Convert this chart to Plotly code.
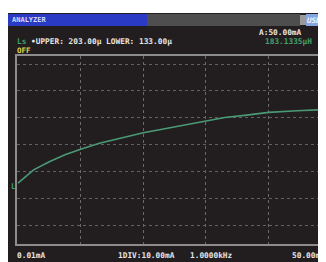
import plotly.graph_objects as go

current_mA = [0.01, 2.5, 5, 7.5, 10, 13, 16, 18.5, 20, 23, 26.5, 30, 33, 36.5, 40, 44.5, 50]
ls_uH = [155.7, 160.6, 163.6, 166.2, 168.3, 170.5, 172.2, 173.6, 174.4, 175.7,
         177.3, 178.9, 180.1, 181.0, 182.0, 182.6, 183.13]
x_grid = [10, 20, 30, 40]
y_grid = [140, 150, 160, 170, 180, 190, 200]
upper_uH = 203.0
lower_uH = 133.0

OFF = 8  # page body margin
W, H = 326 - OFF, 262 - OFF
# plot area in page pixels
L, R, T, B = 17, 326, 56, 244


def px(x):
    return (x - L) / (R - L)


def py(y):
    return (B - y) / (B - T)


DARK = "#221e1f"
GREEN = "#44a06a"
WHITE = "#e6e6e6"
MONO = "DejaVu Sans Mono"

fig = go.Figure()
fig.add_trace(go.Scatter(x=current_mA, y=ls_uH, mode="lines",
                         line=dict(color="#4a9a76", width=1.6), hoverinfo="skip"))

shapes = [
    # instrument screen background
    dict(type="rect", xref="paper", yref="paper", x0=px(8), x1=px(326), y0=py(13), y1=py(262),
         fillcolor=DARK, line=dict(width=0), layer="below"),
    # title bar (blue)
    dict(type="rect", xref="paper", yref="paper", x0=px(8), x1=px(147), y0=py(14), y1=py(26),
         fillcolor="#2a3ac4", line=dict(width=0)),
    # title bar (gray)
    dict(type="rect", xref="paper", yref="paper", x0=px(147), x1=px(300), y0=py(14), y1=py(26),
         fillcolor="#4e4e4e", line=dict(width=0)),
    # usb icon
    dict(type="rect", xref="paper", yref="paper", x0=px(300), x1=px(306), y0=py(15), y1=py(25),
         fillcolor="#9a9a9a", line=dict(width=0)),
    dict(type="rect", xref="paper", yref="paper", x0=px(306), x1=px(326), y0=py(14), y1=py(26),
         fillcolor="#86a6e2", line=dict(width=0)),
]


def ann(text, x, y, color=WHITE, size=7.8, anchor="left", italic=False):
    if italic:
        text = "<i>" + text + "</i>"
    return dict(text=text, x=px(x), y=py(y), xref="paper", yref="paper", showarrow=False,
                xanchor=anchor, yanchor="middle", font=dict(family=MONO, size=size, color=color),
                borderpad=0, borderwidth=0)


annotations = [
    ann("<b>ANALYZER</b>", 12, 20, color="#d4dcff", size=7),
    ann("<b>USB</b>", 307, 20, color="#f4f6ff", size=7.5, italic=True),
    ann("<b>Ls</b>", 17, 42, color=GREEN),
    ann("<b>\u2022UPPER: %.2f\u03bc LOWER: %.2f\u03bc</b>" % (upper_uH, lower_uH), 31, 42),
    ann("<b>OFF</b>", 17, 51, color="#e6d648", size=7.5),
    ann("<b>A:50.00mA</b>", 302, 32, anchor="right"),
    ann("<b>183.1335\u03bcH</b>", 312, 41, color=GREEN, anchor="right"),
    ann("<b>L</b>", 13, 186, color=GREEN, anchor="center"),
    ann("<b>0.01mA</b>", 17, 255),
    ann("<b>1DIV:10.00mA</b>", 118, 255),
    ann("<b>1.0000kHz</b>", 190, 255),
    ann("<b>50.00mA</b>", 325, 255, anchor="right"),
]

fig.update_layout(
    width=W, height=H,
    margin=dict(l=L - OFF, r=326 - R, t=T - OFF, b=262 - B, pad=0),
    paper_bgcolor="white",
    plot_bgcolor=DARK,
    showlegend=False,
    shapes=shapes,
    annotations=annotations,
)
fig.update_xaxes(range=[-0.15, 49.15], tickmode="array", tickvals=x_grid, showticklabels=False,
                 ticks="", showgrid=True, gridcolor="#6a6a6a", gridwidth=1, griddash="dot",
                 zeroline=False, showline=True, linecolor="#8c8c8c", linewidth=2, mirror=True)
fig.update_yaxes(range=[lower_uH, upper_uH], tickmode="array", tickvals=y_grid, showticklabels=False,
                 ticks="", showgrid=True, gridcolor="#626262", gridwidth=1, griddash="dot",
                 zeroline=False, showline=True, linecolor="#8c8c8c", linewidth=2, mirror=False)

fig.write_html("out.html")
